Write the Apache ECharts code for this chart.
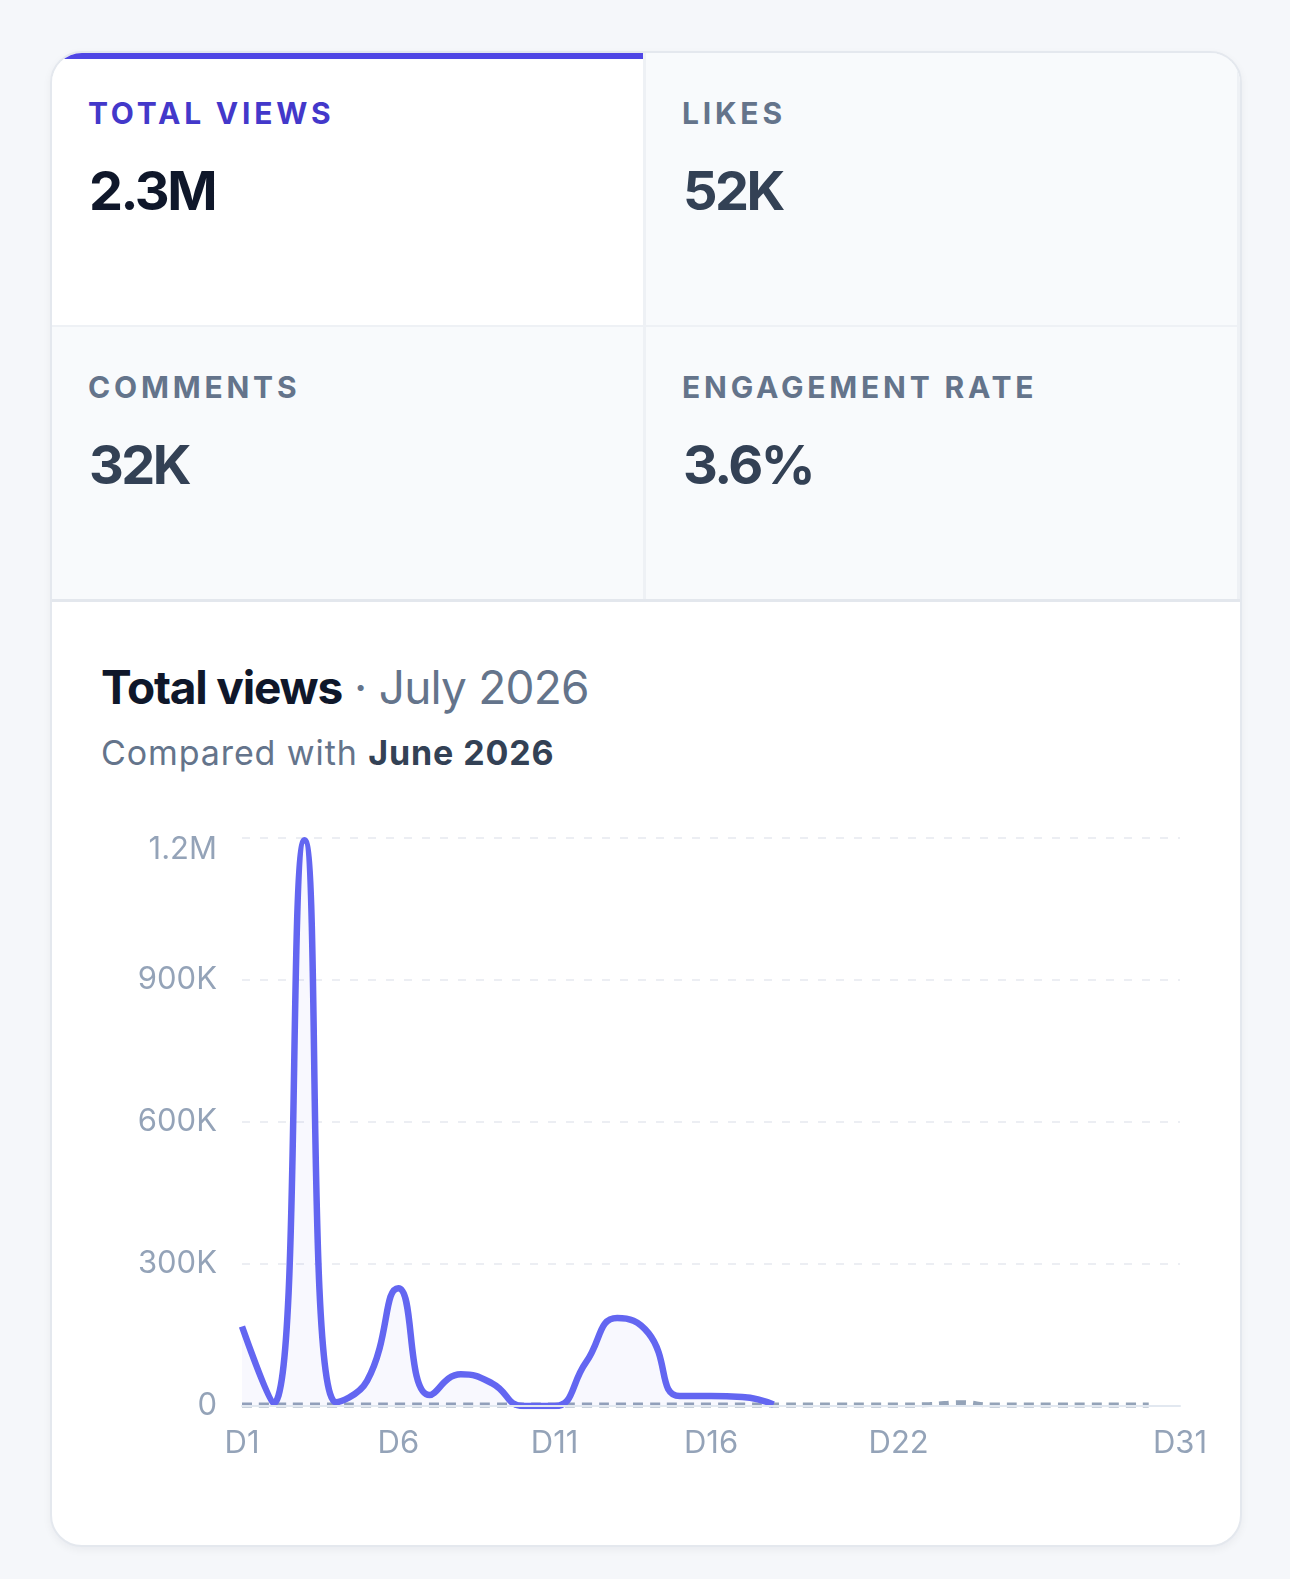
<!DOCTYPE html>
<html>
<head>
<meta charset="utf-8">
<script src="https://cdn.jsdelivr.net/npm/echarts@6/dist/echarts.min.js"></script>
<style>
  html, body { margin: 0; padding: 0; }
  body { width: 1290px; height: 1579px; background: #f5f7fa; font-family: Inter, "Noto Sans", sans-serif; position: relative; overflow: hidden; }
  .card { position: absolute; left: 50px; top: 51px; width: 1188px; height: 1492px; background: #fff; border: 2px solid #e4e8ee; border-radius: 32px; overflow: hidden; box-shadow: 0 3px 8px rgba(15,23,42,0.05); }
  .tiles { position: absolute; left: 0; top: 0; width: 1188px; height: 546px; background: #eef1f5; border-bottom: 3px solid #e3e7ed; }
  .tile { position: absolute; width: 591px; height: 272px; background: #f8fafc; }
  .tile.active { background: #fff; }
  .tile.active:before { content: ""; position: absolute; left: 0; top: 0; right: 0; height: 6px; background: #4f46e5; }
  .t1 { left: 0; top: 0; } .t2 { left: 594px; top: 0; } .t3 { left: 0; top: 274px; } .t4 { left: 594px; top: 274px; }
  .lbl { position: absolute; left: 36px; top: 45px; font-size: 30px; font-weight: 700; letter-spacing: 3.8px; color: #64748b; line-height: 30px; }
  .active .lbl { color: #4338ca; }
  .val { position: absolute; left: 37px; top: 110px; font-size: 54px; font-weight: 700; letter-spacing: -2.5px; color: #334155; line-height: 56px; }
  .active .val { color: #0f172a; }
  .title { position: absolute; left: 49px; top: 606px; font-size: 46px; line-height: 56px; letter-spacing: -1.2px; color: #0f172a; font-weight: 700; white-space: nowrap; }
  .title span { font-weight: 400; color: #64748b; letter-spacing: -0.8px; }
  .sub { position: absolute; left: 49px; top: 680px; font-size: 34px; line-height: 40px; letter-spacing: 0.9px; color: #64748b; white-space: nowrap; }
  .sub b { color: #334155; font-weight: 700; }
  #chart { position: absolute; left: 0; top: 737px; width: 1188px; height: 700px; }
</style>
</head>
<body>
<div class="card">
  <div class="tiles">
    <div class="tile t1 active"><div class="lbl">TOTAL VIEWS</div><div class="val">2.3M</div></div>
    <div class="tile t2"><div class="lbl">LIKES</div><div class="val">52K</div></div>
    <div class="tile t3"><div class="lbl">COMMENTS</div><div class="val">32K</div></div>
    <div class="tile t4"><div class="lbl">ENGAGEMENT RATE</div><div class="val">3.6%</div></div>
  </div>
  <div class="title">Total views<span> · July 2026</span></div>
  <div class="sub">Compared with <b>June 2026</b></div>
  <div id="chart"></div>
</div>
<script>
// day categories D1..D31
var days = ['D1','D2','D3','D4','D5','D6','D7','D8','D9','D10','D11','D12','D13','D14','D15','D16',
            'D17','D18','D19','D20','D21','D22','D23','D24','D25','D26','D27','D28','D29','D30','D31'];
var shownDays = ['D1','D6','D11','D16','D22','D31'];

// July 2026 (so far)
var julyViews = [168000, 5000, 1195000, 8000, 53000, 249000, 23000, 67000, 48000, 0, 0, 92000,
                 186000, 154000, 21000, 21000, 19000, 3000];
// June 2026
var juneViews = [2000, 2000, 2000, 2000, 2000, 2000, 2000, 2000, 2000, 2000, 2000, 2000, 2000, 2000, 2000,
                 2000, 2000, 2000, 2000, 2000, 2000, 2000, 3000, 7000, 2000, 2000, 2000, 2000, 2000, 2000];

var yTicks = { 0: '0', 300000: '300K', 600000: '600K', 900000: '900K', 1200000: '1.2M' };

var chart = echarts.init(document.getElementById('chart'));
var labelFont = { color: '#94a3b8', fontSize: 31, fontFamily: 'Inter' };

chart.setOption({
    animation: false,
    grid: { left: 190, right: 60, top: 48, bottom: 84, containLabel: false, outerBoundsMode: 'none' },
    xAxis: {
        type: 'category',
        data: days,
        boundaryGap: false,
        axisTick: { show: false },
        axisLine: { lineStyle: { color: '#e2e8f0', width: 2 } },
        axisLabel: {
            color: labelFont.color, fontSize: labelFont.fontSize, fontFamily: labelFont.fontFamily,
            margin: 22,
            interval: function (idx, val) { return shownDays.indexOf(val) >= 0; }
        },
        z: 3
    },
    yAxis: {
        type: 'value',
        min: 0,
        max: 1200000,
        interval: 300000,
        axisLine: { show: false },
        axisTick: { show: false },
        splitLine: { lineStyle: { color: '#eceef3', width: 2, type: [8, 10] } },
        axisLabel: {
            margin: 25,
            color: labelFont.color, fontSize: labelFont.fontSize, fontFamily: labelFont.fontFamily,
            formatter: function (v) {
                if (v === 1200000) return '{top|' + yTicks[v] + '}';
                return yTicks[v];
            },
            rich: {
                top: { color: labelFont.color, fontSize: labelFont.fontSize, fontFamily: labelFont.fontFamily, padding: [24, 0, 0, 0] }
            }
        }
    },
    series: [
        {
            name: 'June 2026',
            type: 'line',
            data: juneViews,
            smooth: true,
            showSymbol: false,
            lineStyle: { color: '#94a3b8', width: 5, type: [10, 7] },
            z: 1
        },
        {
            name: 'July 2026',
            type: 'line',
            data: julyViews,
            smooth: true,
            showSymbol: false,
            lineStyle: { color: '#6366f1', width: 6.5 },
            areaStyle: { color: 'rgba(99,102,241,0.06)' },
            z: 2
        }
    ]
});
</script>
</body>
</html>
